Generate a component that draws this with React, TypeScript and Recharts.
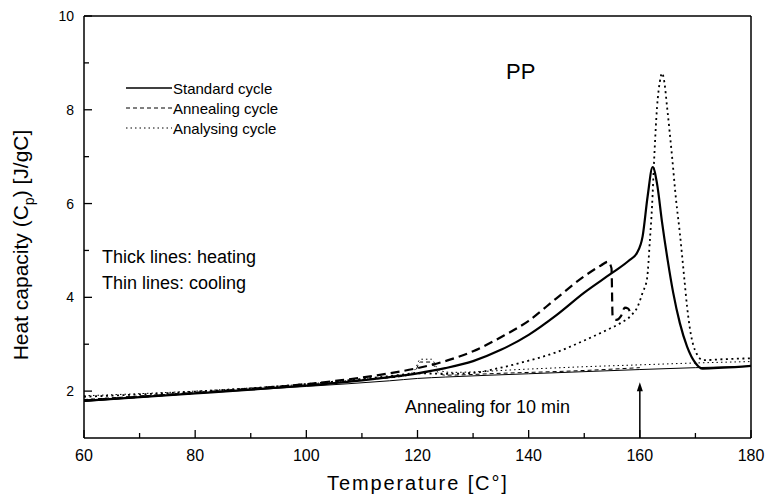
import React from 'react';
import { LineChart, Line, XAxis, YAxis, ReferenceLine } from 'recharts';

// Temperature [°C] / heat capacity [J/gC] pairs
const standardHeating: [number, number][] = [
    [60, 1.79], [70, 1.87], [80, 1.95], [90, 2.03], [100, 2.12], [110, 2.23], [115, 2.3],
    [120, 2.38], [125, 2.49], [130, 2.64], [135, 2.88], [140, 3.2], [145, 3.62], [150, 4.1],
    [155, 4.52], [158, 4.78], [159.5, 4.95], [160.5, 5.3], [161.4, 6.15], [162.3, 6.78],
    [163.1, 6.42], [164, 5.6], [165, 4.8], [166, 4.1], [167.2, 3.45], [168.5, 2.95],
    [170, 2.6], [171.3, 2.48], [175, 2.5], [180, 2.54],
];
const annealingHeating: [number, number][] = [
    [60, 1.8], [70, 1.88], [80, 1.96], [90, 2.05], [100, 2.15], [110, 2.29], [115, 2.38],
    [120, 2.49], [125, 2.64], [130, 2.85], [135, 3.15], [140, 3.5], [145, 3.98], [150, 4.45],
    [153, 4.68], [154.3, 4.76], [154.9, 4.62], [155.1, 3.6], [155.8, 3.52], [156.6, 3.6],
    [157.3, 3.78], [157.9, 3.76], [158.4, 3.62],
];
const analysingHeating: [number, number][] = [
    [60, 1.88], [70, 1.93], [80, 1.99], [90, 2.06], [100, 2.15], [110, 2.26], [115, 2.32],
    [120, 2.38], [125, 2.37], [130, 2.39], [135, 2.5], [140, 2.65], [145, 2.83], [150, 3.08],
    [154, 3.3], [156.5, 3.45], [158.5, 3.62], [159.6, 3.8], [160.5, 4.1], [161.3, 4.4],
    [161.8, 5.2], [162.2, 5.95], [162.6, 7.0], [163.1, 8.06], [163.6, 8.6], [164, 8.78],
    [164.4, 8.6], [164.9, 8.06], [165.8, 7.0], [166.5, 6.1], [167.2, 5.37], [168, 4.4],
    [168.5, 3.8], [169.2, 3.2], [169.9, 2.88], [171.4, 2.66], [175, 2.68], [180, 2.7],
];
const standardCooling: [number, number][] = [
    [60, 1.78], [80, 1.95], [100, 2.1], [115, 2.22], [120, 2.27], [125, 2.3], [140, 2.37],
    [160, 2.46], [170, 2.5], [180, 2.53],
];
const annealingCooling: [number, number][] = [
    [60, 1.82], [80, 1.97], [100, 2.13], [110, 2.24], [118, 2.33], [119.5, 2.4], [120.5, 2.62],
    [122.5, 2.62], [123.5, 2.42], [125, 2.34], [135, 2.38], [150, 2.44], [160, 2.5],
];
const analysingCooling: [number, number][] = [
    [60, 1.9], [80, 2.0], [100, 2.15], [110, 2.25], [118, 2.34], [119.5, 2.45], [120.5, 2.68],
    [122.5, 2.68], [123.8, 2.45], [126, 2.4], [140, 2.47], [150, 2.52], [160, 2.56],
    [170, 2.6], [180, 2.63],
];

const xTicks = [60, 70, 80, 90, 100, 110, 120, 130, 140, 150, 160, 170, 180];
const yTicks = [2, 3, 4, 5, 6, 7, 8, 9, 10];
const legendItems = [
    { name: 'Standard cycle', dash: '' },
    { name: 'Annealing cycle', dash: '4 3' },
    { name: 'Analysing cycle', dash: '1.5 3' },
];

const FONT = '"Liberation Sans", Arial, sans-serif';
const toPoints = (arr: [number, number][]) => arr.map(([t, cp]) => ({ t, cp }));

const XTick = (props: any) => {
    const { x, y, payload } = props;
    const axisY = y - 6;
    const major = payload.value % 20 === 0;
    return (
        <g>
            <line x1={x} x2={x} y1={axisY} y2={axisY - (major ? 8 : 5)} stroke="#000" strokeWidth={1.3} />
            {major && (
                <text x={x} y={axisY + 23} textAnchor="middle" fontSize={16} fontFamily={FONT} fill="#000">
                    {payload.value}
                </text>
            )}
        </g>
    );
};

const YTick = (props: any) => {
    const { x, y, payload } = props;
    const axisX = x + 10;
    const major = payload.value % 2 === 0;
    return (
        <g>
            <line x1={axisX} x2={axisX + (major ? 8 : 5)} y1={y} y2={y} stroke="#000" strokeWidth={1.3} />
            {major && (
                <text x={x} y={y + 5} textAnchor="end" fontSize={14} fontFamily={FONT} fill="#000">
                    {payload.value}
                </text>
            )}
        </g>
    );
};

const Arrow = (props: any) => {
    const { x1, y1, x2, y2 } = props;
    const top = Math.min(y1, y2);
    const bottom = Math.max(y1, y2);
    return (
        <g>
            <line x1={x1} x2={x2} y1={bottom} y2={top + 6} stroke="#000" strokeWidth={1.5} />
            <polygon points={`${x1 - 3},${top + 9} ${x1 + 3},${top + 9} ${x1},${top}`} fill="#000" />
        </g>
    );
};

const text = (style: React.CSSProperties): React.CSSProperties => ({
    position: 'absolute',
    fontFamily: FONT,
    color: '#000',
    whiteSpace: 'nowrap',
    lineHeight: 1,
    ...style,
});

export default function App() {
    return (
        <div style={{ position: 'absolute', left: 0, top: 0, width: 766, height: 499, background: '#fff' }}>
            <LineChart width={766} height={499} margin={{ top: 16, right: 15, left: 44, bottom: 31 }}>
                <XAxis
                    type="number"
                    dataKey="t"
                    domain={[60, 180]}
                    ticks={xTicks}
                    interval={0}
                    height={30}
                    tickSize={0}
                    tickMargin={6}
                    tickLine={false}
                    tick={<XTick />}
                    axisLine={{ stroke: '#000', strokeWidth: 1.5 }}
                    allowDuplicatedCategory={false}
                />
                <YAxis
                    type="number"
                    dataKey="cp"
                    domain={[1, 10]}
                    ticks={yTicks}
                    interval={0}
                    width={40}
                    tickSize={0}
                    tickMargin={10}
                    tickLine={false}
                    tick={<YTick />}
                    axisLine={{ stroke: '#000', strokeWidth: 1.5 }}
                />
                <ReferenceLine y={10} stroke="#000" strokeWidth={1.5} />
                <ReferenceLine x={180} stroke="#000" strokeWidth={1.5} />

                <Line data={toPoints(standardCooling)} dataKey="cp" type="monotone" stroke="#000" strokeWidth={1} dot={false} isAnimationActive={false} />
                <Line data={toPoints(annealingCooling)} dataKey="cp" type="monotone" stroke="#000" strokeWidth={1} strokeDasharray="4 3" dot={false} isAnimationActive={false} />
                <Line data={toPoints(analysingCooling)} dataKey="cp" type="monotone" stroke="#000" strokeWidth={1} strokeDasharray="1.5 3" dot={false} isAnimationActive={false} />
                <Line data={toPoints(standardHeating)} dataKey="cp" type="monotone" stroke="#000" strokeWidth={2.2} dot={false} isAnimationActive={false} />
                <Line data={toPoints(annealingHeating)} dataKey="cp" type="monotone" stroke="#000" strokeWidth={2.2} strokeDasharray="9 5" dot={false} isAnimationActive={false} />
                <Line data={toPoints(analysingHeating)} dataKey="cp" type="monotone" stroke="#000" strokeWidth={1.8} strokeDasharray="2 3.5" dot={false} isAnimationActive={false} />

                <ReferenceLine segment={[{ x: 160, y: 1 }, { x: 160, y: 2.19 }]} shape={<Arrow />} />
            </LineChart>

            {/* legend */}
            <svg style={{ position: 'absolute', left: 126, top: 80 }} width={48} height={54}>
                {legendItems.map((item, i) => (
                    <line
                        key={item.name}
                        x1={0}
                        x2={46}
                        y1={8 + i * 20}
                        y2={8 + i * 20}
                        stroke="#000"
                        strokeWidth={i === 0 ? 1.6 : 1}
                        strokeDasharray={item.dash || undefined}
                    />
                ))}
            </svg>
            {legendItems.map((item, i) => (
                <div key={item.name} style={text({ left: 173, top: 81 + i * 20, fontSize: 15 })}>
                    {item.name}
                </div>
            ))}

            <div style={text({ left: 506, top: 61, fontSize: 22 })}>PP</div>
            <div style={text({ left: 102, top: 248, fontSize: 18 })}>Thick lines: heating</div>
            <div style={text({ left: 102, top: 274, fontSize: 18 })}>Thin lines: cooling</div>
            <div style={text({ left: 405, top: 398, fontSize: 18 })}>Annealing for 10 min</div>

            <div style={text({ left: 327, top: 473, fontSize: 20, letterSpacing: 1.9 })}>Temperature [C°]</div>
            <div
                style={text({
                    left: 23,
                    top: 245,
                    fontSize: 21,
                    transform: 'translate(-50%, -50%) rotate(-90deg)',
                })}
            >
                Heat capacity (C<sub style={{ fontSize: 14 }}>p</sub>) [J/gC]
            </div>
        </div>
    );
}
